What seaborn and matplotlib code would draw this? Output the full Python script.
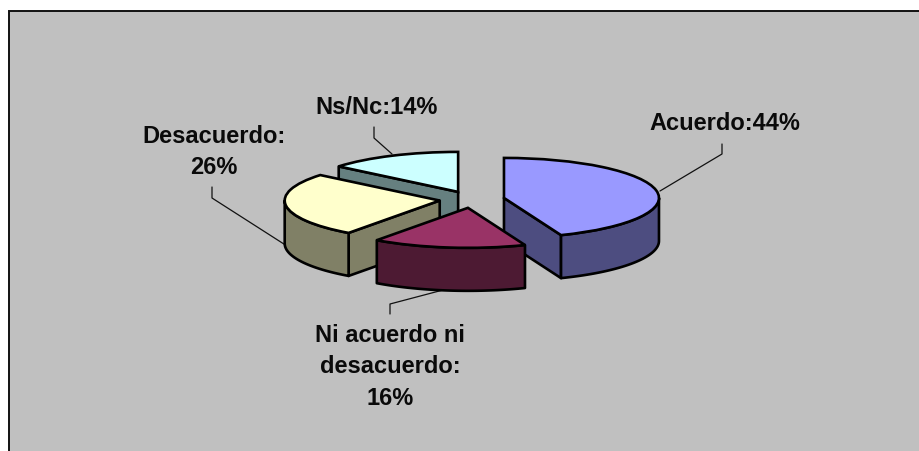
import numpy as np
import seaborn as sns
import matplotlib.pyplot as plt
from matplotlib.patches import Rectangle

categories = ["Acuerdo", "Ni acuerdo ni desacuerdo", "Desacuerdo", "Ns/Nc"]
shares = [44, 16, 26, 14]
top_colors = ["#9999FF", "#993366", "#FFFFCC", "#CCFFFF"]
side_colors = ["#4D4D80", "#4D1A33", "#808066", "#668080"]
labels = ["Acuerdo:44%", "Ni acuerdo ni\ndesacuerdo:\n16%", "Desacuerdo:\n26%", "Ns/Nc:14%"]

sns.set_theme(style="white")
plt.rcParams['font.family'] = ['Liberation Sans', 'DejaVu Sans']

W, H = 920, 452
CX, CY, RX, RY = 472, 200.5, 155, 40
DEPTH = 43 / RY
EXPLODE = 0.21
EDGE = 1.9


def px(x, y):
    # picture pixels to the stretched pie units
    return (x - CX) / RX, (CY - y) / RY


fig = plt.figure(figsize=(W / 100, H / 100), dpi=100, facecolor="white")
# the frame runs off the right and bottom of the picture
fig.patches.append(Rectangle((8.5 / W, -0.1), 1, 1.1 - 11.5 / H, transform=fig.transFigure,
                             facecolor="#C0C0C0", edgecolor="#111111", linewidth=1.4,
                             figure=fig, zorder=-1))
ax = fig.add_axes([0, 0, 1, 1])
ax.patch.set_alpha(0)

wedges, _ = ax.pie(shares, explode=[EXPLODE] * 4, startangle=90, counterclock=False,
                   colors=top_colors, wedgeprops=dict(edgecolor="black", linewidth=EDGE))
ax.set_xlim(px(0, 0)[0], px(W, 0)[0])
ax.set_ylim(px(0, H)[1], px(0, 0)[1])
ax.set_aspect("auto")

# back to front, the way the slices overlap
order = {"Ns/Nc": 1, "Acuerdo": 2, "Desacuerdo": 3, "Ni acuerdo ni desacuerdo": 4}
bounds = np.cumsum([0] + shares) * 3.6


def wall(xs, ys, color, z):
    xs = np.asarray(xs)
    ys = np.asarray(ys)
    ax.fill(np.r_[xs, xs[::-1]], np.r_[ys, ys[::-1] - DEPTH], facecolor=color,
            edgecolor="black", linewidth=EDGE, joinstyle="round", zorder=z)


for i, name in enumerate(categories):
    t0, t1 = bounds[i], bounds[i + 1]
    mid = np.radians((t0 + t1) / 2)
    ox, oy = EXPLODE * np.sin(mid), EXPLODE * np.cos(mid)
    z = order[name] * 2
    # straight cut faces
    for t, sign in ((t0, -1), (t1, 1)):
        if sign * np.sin(np.radians(t)) > 1e-6:
            a = np.radians(t)
            wall([ox, ox + np.sin(a)], [oy, oy + np.cos(a)], side_colors[i], z)
    # rim, only the front half shows
    lo, hi = max(t0, 90), min(t1, 270)
    if lo < hi:
        a = np.radians(np.linspace(lo, hi, 60))
        wall(ox + np.sin(a), oy + np.cos(a), side_colors[i], z)
    wedges[i].set_zorder(z + 1)

# leader lines
leaders = [
    [(660, 192), (722, 155), (722, 145)],
    [(443, 291), (390, 305), (390, 315)],
    [(287, 247), (212, 199), (212, 188)],
    [(392, 155), (374, 139), (374, 128)],
]
for pts in leaders:
    xy = np.array([px(*p) for p in pts])
    ax.plot(xy[:, 0], xy[:, 1], color="#111111", linewidth=0.9, zorder=0.5)

label_pos = [(725, 124), (390, 367), (214, 152), (377, 108)]
for text, (x, y) in zip(labels, label_pos):
    tx, ty = px(x, y)
    ax.text(tx, ty, text, ha="center", va="center", fontsize=17, fontweight="bold", color="#0a0a0a",
            linespacing=1.47, zorder=20)

fig.savefig("out.png", dpi=100, facecolor="white")
